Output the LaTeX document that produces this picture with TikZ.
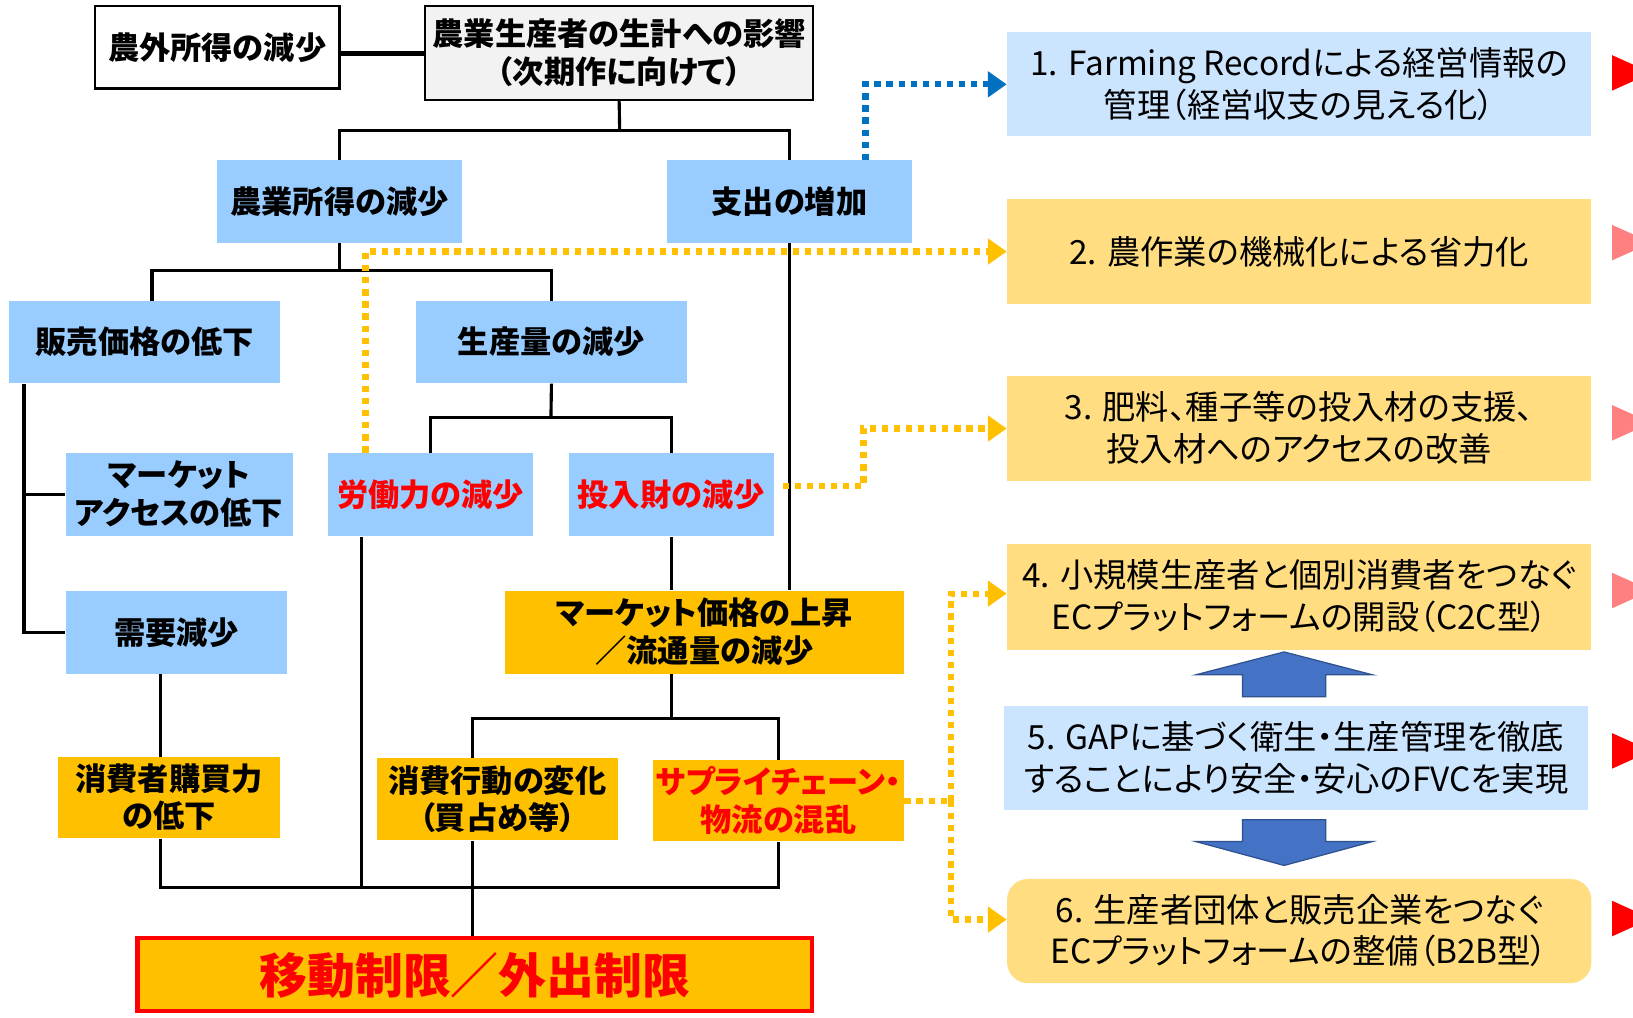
\documentclass[tikz,border=0pt]{standalone}
\usepackage{fontspec}
\setmainfont{Noto Sans CJK JP}[RawFeature=+palt]
\usetikzlibrary{arrows.meta,fit,calc}
\definecolor{lblue}{HTML}{99CCFF}
\definecolor{pblue}{HTML}{CCE5FF}
\definecolor{orng}{HTML}{FFC000}
\definecolor{pyel}{HTML}{FFDD80}
\definecolor{tgray}{HTML}{F2F2F2}
\definecolor{dblue}{HTML}{0070C0}
\definecolor{ablue}{HTML}{4472C4}
\definecolor{ablueb}{HTML}{2F528F}
\definecolor{lred}{HTML}{FF8080}
\newcommand\jst{\rule[-0.12em]{0pt}{1em}}
\newcommand\brk{\\\jst}
\begin{document}
\begin{tikzpicture}[x=0.5pt,y=-0.5pt,
  shp/.style={inner sep=0pt},
  wbox/.style={shp, draw=black, line width=1pt, fill=white},
  gbox/.style={shp, draw=black, line width=1pt, fill=tgray},
  bbox/.style={shp, fill=lblue},
  obox/.style={shp, fill=orng},
  ltxt/.style={inner sep=0pt, align=center, font=\fontsize{15}{18}\selectfont\bfseries, execute at begin node=\jst},
  rtxt/.style={inner sep=0pt, align=center, font=\fontsize{16}{20}\selectfont, execute at begin node=\jst},
  conn/.style={line width=1.5pt, black},
  dotline/.style={line width=3pt, dash pattern=on 3pt off 2.8pt},
  odot/.style={dotline, orng},
  bdot/.style={dotline, dblue},
  tip/.style={-{Triangle[length=9pt,width=12pt]}},
  blockarrow/.style={fill=ablue, draw=ablueb, line width=0.6pt}
]
\useasboundingbox (0,0) rectangle (1568,977);
\fill[white] (0,0) rectangle (1568,977);

% left tree boxes
\node[wbox, fit={(91,6)(326,85)}] (n0) {};
\node[gbox, fit={(408,6)(781,96)}] (n1) {};
\node[bbox, fit={(208,154)(444,233)}] (n2) {};
\node[bbox, fit={(640,154)(876,233)}] (n3) {};
\node[bbox, fit={(9,289)(269,368)}] (n4) {};
\node[bbox, fit={(399,289)(660,368)}] (n5) {};
\node[bbox, fit={(63,435)(281,515)}] (n8) {};
\node[bbox, fit={(315,435)(512,515)}] (n6) {};
\node[bbox, fit={(546,435)(743,515)}] (n7) {};
\node[bbox, fit={(63,567)(276,647)}] (n9) {};
\node[obox, fit={(485,567)(868,647)}] (n10) {};
\node[obox, fit={(56,727)(269,805)}] (n11) {};
\node[obox, fit={(362,728)(593,807)}] (n12) {};
\node[obox, fit={(627,730)(868,808)}] (n13) {};
\node[obox, fit={(132,901)(780,971)}, draw=red, line width=2pt] (n14) {};

% left tree texts
\node[ltxt] (t0) at (n0) {農外所得の減少};
\node[ltxt] (t1) at (n1) {農業生産者の生計への影響\brk（次期作に向けて）};
\node[ltxt] (t2) at (n2) {農業所得の減少};
\node[ltxt] (t3) at (n3) {支出の増加};
\node[ltxt] (t4) at (n4) {販売価格の低下};
\node[ltxt] (t5) at (n5) {生産量の減少};
\node[ltxt] (t8) at (n8) {マーケット\brk アクセスの低下};
\node[ltxt, text=red] (t6) at (n6) {労働力の減少};
\node[ltxt, text=red] (t7) at (n7) {投入財の減少};
\node[ltxt] (t9) at (n9) {需要減少};
\node[ltxt] (t10) at (n10) {マーケット価格の上昇\brk ／流通量の減少};
\node[ltxt] (t11) at (n11) {消費者購買力\brk の低下};
\node[ltxt] (t12) at (n12) {消費行動の変化\brk（買占め等）};
\node[ltxt, text=red] (t13) at (n13) {サプライチェーン・\brk 物流の混乱};
\node[ltxt, text=red, font=\fontsize{23}{27}\selectfont\bfseries] (t14) at (n14) {移動制限／外出制限};

% right column
\node[shp, fill=pblue, fit={(967,31)(1528,131)}] (r1) {};
\node[shp, fill=pyel, fit={(967,191)(1528,292)}] (r2) {};
\node[shp, fill=pyel, fit={(967,361)(1528,462)}] (r3) {};
\node[shp, fill=pyel, fit={(967,522)(1528,624)}] (r4) {};
\node[shp, fill=pblue, fit={(964,678)(1525,778)}] (r5) {};
\node[shp, fill=pyel, rounded corners=10pt, fit={(967,844)(1528,944)}] (r6) {};
\node[rtxt] (s1) at (r1) {1. Farming Recordによる経営情報の\brk 管理（経営収支の見える化）};
\node[rtxt] (s2) at (r2) {2. 農作業の機械化による省力化};
\node[rtxt] (s3) at (r3) {3. 肥料、種子等の投入材の支援、\brk 投入材へのアクセスの改善};
\node[rtxt] (s4) at (r4) {4. 小規模生産者と個別消費者をつなぐ\brk ECプラットフォームの開設（C2C型）};
\node[rtxt] (s5) at (r5) {5. GAPに基づく衛生・生産管理を徹底\brk することにより安全・安心のFVCを実現};
\node[rtxt] (s6) at (r6) {6. 生産者団体と販売企業をつなぐ\brk ECプラットフォームの整備（B2B型）};

% helper coordinates
\coordinate (b1) at (595,125);
\coordinate (b2) at (326,260);
\coordinate (b3) at (529,401);
\coordinate (b4) at (645,690);
\coordinate (xL) at (23,0);
\coordinate (x146) at (146,0);
\coordinate (x154) at (154,0);
\coordinate (x347) at (347,0);
\coordinate (x454) at (454,0);
\coordinate (ybus) at (0,852);
\coordinate (x831) at (831,0);
\coordinate (x351) at (351,0);
\coordinate (x829) at (829,0);
\coordinate (x913) at (913,0);

% black connectors
\draw[line width=2.5pt] (n1.west -| n0.east) -- (n1.west);
\draw[conn] (n1.south) -- (b1);
\draw[conn] (n2.north) |- (b1) -| (n3.north);
\draw[conn] (n2.south) -- (b2);
\draw[conn] (n4.north -| x146) |- (b2) -| (n5.north);
\draw[conn] (n5.south) -- (b3);
\draw[conn] (n6.north) |- (b3) -| (n7.north);
\draw[conn] (n4.south -| xL) |- (n9.west);
\draw[conn] (n8.west) -- (n8.west -| xL);
\draw[conn] (n3.south) -- (n3.south |- n10.north);
\draw[conn] (n7.south) -- (n7.south |- n10.north);
\draw[conn] (n10.south -| b4) -- (b4);
\draw[conn] (n12.north -| x454) |- (b4) -| (n13.north);
\draw[conn] (n9.south -| x154) -- (n11.north -| x154);
\draw[conn] (n11.south -| x154) |- (n13.south |- ybus) -- (n13.south);
\draw[conn] (n6.south -| x347) -- (x347 |- ybus);
\draw[conn] (n12.south -| x454) -- (n14.north -| x454);

% dotted connectors
\draw[bdot, tip] (n3.north -| x831) |- (r1.west);
\draw[odot, tip] (n6.north -| x351) |- (r2.west);
\draw[odot, tip] ([xshift=4pt,yshift=4pt]n7.east) -- ([yshift=4pt]n7.east -| x829) |- (r3.west);
\draw[odot] (n13.east) -- (n13.east -| x913);
\draw[odot, tip] (n13.east -| x913) |- ([yshift=1.5pt]r4.west);
\draw[odot, tip] (n13.east -| x913) |- ([yshift=5.5pt]r6.west);

% block arrows
\draw[blockarrow] (1233,626) -- (1318,648) -- (1273,648) -- (1273,669) -- (1193,669) -- (1193,648) -- (1148,648) -- cycle;
\draw[blockarrow] (1193,787) -- (1273,787) -- (1273,808) -- (1318,808) -- (1233,831) -- (1148,808) -- (1193,808) -- cycle;

% right-edge triangles
\foreach \yy/\cc in {70/red,233/lred,406/lred,567/lred,721/red,882/red}{
  \fill[\cc] (1548,\yy-17) -- (1568,\yy-8) -- (1568,\yy+8) -- (1548,\yy+17) -- cycle;
}
\end{tikzpicture}
\end{document}
